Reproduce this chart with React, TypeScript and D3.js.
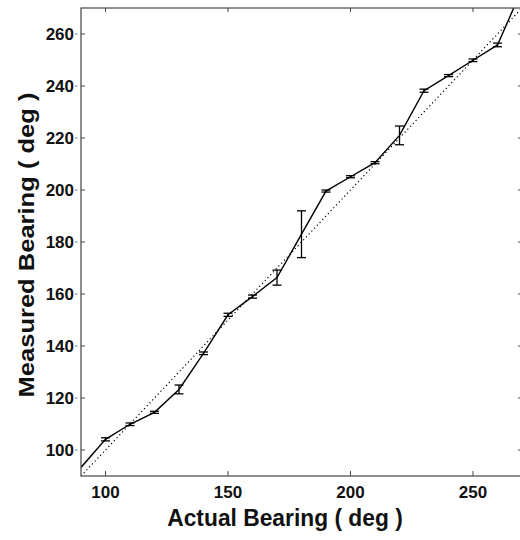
import React from 'react';
import * as d3 from 'd3';

// actual bearing (deg), measured bearing mean and half error bar (deg)
const actual = [90, 100, 110, 120, 130, 140, 150, 160, 170, 180, 190, 200, 210, 220, 230, 240, 250, 260, 270];
const measured = [93.3, 104.1, 109.9, 114.5, 123.3, 137.2, 152.0, 159.0, 166.3, 183.0, 199.6, 205.1, 210.5, 221.0, 238.2, 244.0, 249.9, 255.8, 277.3];
const errHalf = [0, 0.6, 0.5, 0.4, 1.7, 0.5, 0.6, 0.6, 2.9, 9.0, 0.4, 0.4, 0.4, 3.6, 0.6, 0.4, 0.5, 0.7, 0];
const xTicks = [100, 150, 200, 250];
const yTicks = [100, 120, 140, 160, 180, 200, 220, 240, 260];

const W = 520;
const H = 540;
const margin = { left: 81, top: 8, right: 522, bottom: 476 };
const font = '"Liberation Sans", Arial, Helvetica, sans-serif';

const App: React.FC = () => {
  const x = d3.scaleLinear().domain([90, 270]).range([margin.left, margin.right]);
  const y = d3.scaleLinear().domain([90, 270]).range([margin.bottom, margin.top]);

  const pts = actual.map((a, i) => ({ a, m: measured[i], e: errHalf[i] }));
  const line = d3.line<{ a: number; m: number }>().x(d => x(d.a)).y(d => y(d.m));
  const ideal = d3.line<number>().x(d => x(d)).y(d => y(d));

  const axisColor = '#444';
  const capW = 4.5;

  return (
    <svg width={W} height={H} style={{ position: 'absolute', left: 0, top: 0, background: '#fff' }}>
      <defs>
        <clipPath id="plot">
          <rect x={margin.left} y={margin.top} width={margin.right - margin.left} height={margin.bottom - margin.top} />
        </clipPath>
      </defs>

      <g clipPath="url(#plot)">
        <path d={ideal([90, 270]) || ''} fill="none" stroke="#000" strokeWidth={1.2} strokeDasharray="1.2,2.8" />
        <path d={line(pts) || ''} fill="none" stroke="#000" strokeWidth={1.4} />
        {pts.filter(p => p.e > 0).map(p => (
          <g key={p.a} stroke="#000" strokeWidth={1.3}>
            <line x1={x(p.a)} x2={x(p.a)} y1={y(p.m - p.e)} y2={y(p.m + p.e)} />
            <line x1={x(p.a) - capW} x2={x(p.a) + capW} y1={y(p.m - p.e)} y2={y(p.m - p.e)} />
            <line x1={x(p.a) - capW} x2={x(p.a) + capW} y1={y(p.m + p.e)} y2={y(p.m + p.e)} />
          </g>
        ))}
      </g>

      {/* frame */}
      <rect x={margin.left} y={margin.top} width={margin.right - margin.left} height={margin.bottom - margin.top}
        fill="none" stroke={axisColor} strokeWidth={1.2} />

      {xTicks.map(t => (
        <g key={`x${t}`}>
          <line x1={x(t)} x2={x(t)} y1={margin.bottom} y2={margin.bottom - 5} stroke={axisColor} />
          <line x1={x(t)} x2={x(t)} y1={margin.top} y2={margin.top + 4} stroke={axisColor} />
          <text x={x(t)} y={498} textAnchor="middle" fontFamily={font} fontWeight="bold" fontSize={17} fill="#111">{t}</text>
        </g>
      ))}

      {yTicks.map(t => (
        <g key={`y${t}`}>
          <line x1={margin.left} x2={margin.left + 4} y1={y(t)} y2={y(t)} stroke={axisColor} />
          <line x1={margin.right} x2={margin.right - 4} y1={y(t)} y2={y(t)} stroke={axisColor} />
          <line x1={75} x2={77.5} y1={y(t)} y2={y(t)} stroke="#777" />
          <text x={74} y={y(t)} dy="0.35em" textAnchor="end" fontFamily={font} fontWeight="bold" fontSize={17} fill="#111">{t}</text>
        </g>
      ))}

      <text transform={`translate(285,526) scale(1,1.08)`} textAnchor="middle" fontFamily={font}
        fontWeight="bold" fontSize={22.8} fill="#111">Actual Bearing ( deg )</text>
      <text transform={`translate(34,245) rotate(-90) scale(1.12,1)`} textAnchor="middle" fontFamily={font}
        fontWeight="bold" fontSize={22.8} fill="#111">Measured Bearing ( deg )</text>
    </svg>
  );
};

export default App;
